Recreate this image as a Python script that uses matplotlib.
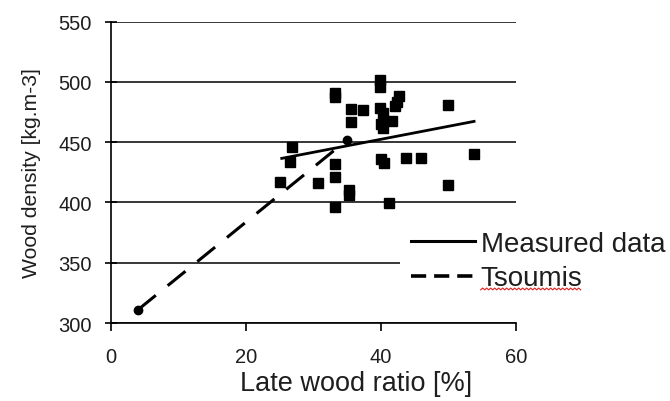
import numpy as np
import matplotlib
matplotlib.use("Agg")
import matplotlib.pyplot as plt
from matplotlib.lines import Line2D

plt.rcParams['font.family'] = ['Liberation Sans', 'DejaVu Sans']

# measured late wood ratio [%] and wood density [kg.m-3]
late_wood = [39.9, 39.9, 33.2, 33.2, 35.5, 37.3, 39.9, 42.7, 42.4, 42.1,
             49.9, 40.3, 41.6, 35.5, 40.0, 40.3, 26.8, 26.5, 33.2, 40.0,
             40.4, 43.7, 46.0, 53.8, 25.0, 30.7, 33.2, 35.3, 35.3, 49.9,
             33.2, 41.2]
density = [501.5, 496, 490.5, 487.5, 477.5, 476.7, 478, 488, 483, 479.8,
           481, 474, 467.8, 467, 465, 461.5, 445.8, 433.3, 431.9, 436,
           433, 436.6, 436.6, 440.2, 417.2, 416.1, 420.9, 410, 406, 414.7,
           396.5, 399.3]

# trend of measured data
trend_x = [25.3, 53.8]
trend_y = [436.6, 467.3]

# Tsoumis relation
tsoumis_x = [4.0, 35.0]
tsoumis_y = [311, 452]

txt = '#1e1e1e'

fig = plt.figure(figsize=(6.7, 4.02), dpi=100)
ax = fig.add_axes([0.1657, 0.194, 0.6043, 0.7495])

ax.plot(late_wood, density, 's', color='black', markersize=6.8, zorder=3)
ax.plot(trend_x, trend_y, '-', color='black', lw=2.0, zorder=4)
ax.plot(tsoumis_x, tsoumis_y, color='black', lw=2.2, dashes=(7.5, 5),
        zorder=4)
ax.plot(tsoumis_x, tsoumis_y, 'o', color='black', markersize=6, zorder=4)

ax.set_xlim(0, 60)
ax.set_ylim(300, 550)
ax.set_xticks([0, 20, 40, 60])
ax.set_yticks([300, 350, 400, 450, 500, 550])
ax.yaxis.grid(True, color='black', lw=1.1)
ax.set_axisbelow(True)

for s in ['top', 'right']:
    ax.spines[s].set_visible(False)
for s in ['left', 'bottom']:
    ax.spines[s].set_linewidth(1.2)

ax.tick_params(axis='y', direction='inout', length=8, width=1.2,
               labelsize=14.5, labelcolor=txt, pad=10)
ax.tick_params(axis='x', direction='out', length=5.5, width=1.2,
               labelsize=14.5, labelcolor=txt, pad=12)

ax.set_xlabel('Late wood ratio [%]', fontsize=19.5, color=txt, labelpad=7)
ax.xaxis.set_label_coords(0.605, -0.155)
ax.set_ylabel('Wood density [kg.m-3]', fontsize=15.2, color=txt, labelpad=12)

handles = [Line2D([], [], color='black', lw=2.2),
           Line2D([], [], color='black', lw=2.6, dashes=(4.2, 2.2))]
leg = fig.legend(handles, ['Measured data', 'Tsoumis'], loc='upper left',
                 bbox_to_anchor=(0.5765, 0.485), fontsize=20, frameon=True,
                 handlelength=2.3, handletextpad=0.2, labelspacing=0.3,
                 borderpad=0.4, fancybox=False)
leg.get_frame().set_facecolor('white')
leg.get_frame().set_edgecolor('none')
leg.get_frame().set_alpha(1)
for t in leg.get_texts():
    t.set_color(txt)

# red spell-check squiggle under "Tsoumis"
fig.canvas.draw()
bb = leg.get_texts()[1].get_window_extent()
sx = np.arange(bb.x0, bb.x1, 2.0)
sy = bb.y0 + 1.5 + np.where(np.arange(len(sx)) % 2 == 0, 0.0, 1.8)
fig.add_artist(Line2D(sx, sy, color='#e02020', lw=0.8, transform=None,
                      zorder=10))

fig.savefig('out.png', dpi=100)
